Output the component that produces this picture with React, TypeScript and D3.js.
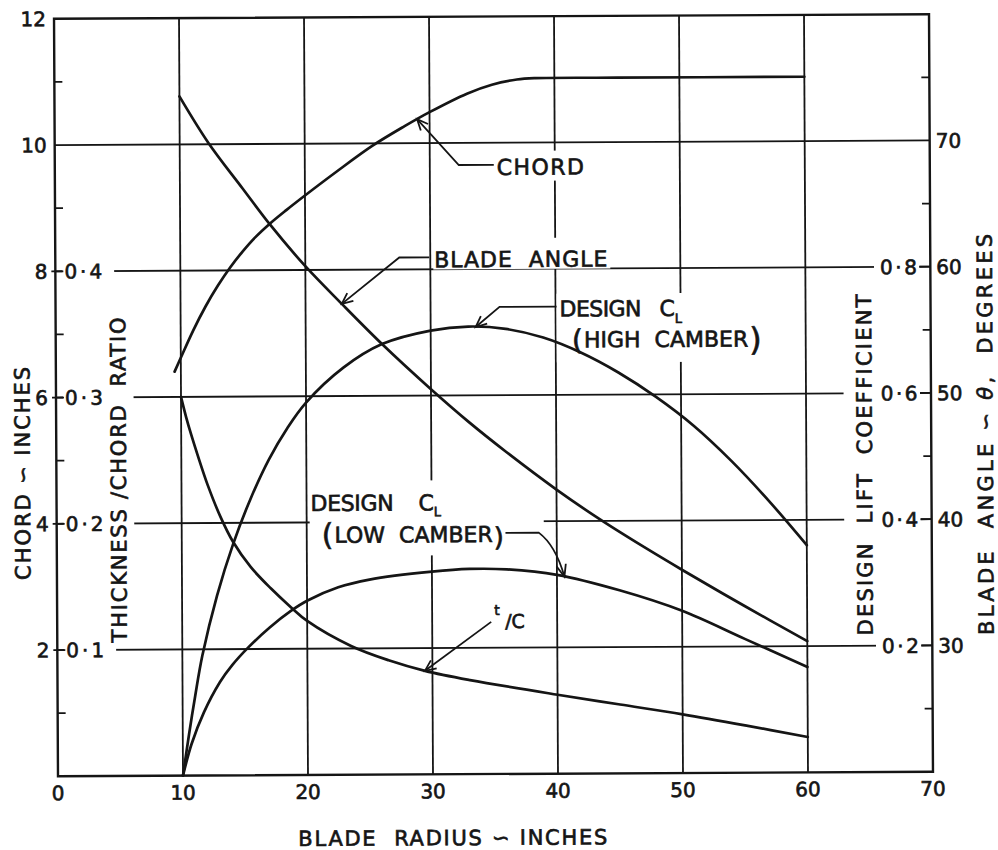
import React, { useEffect, useRef } from "react";
import * as d3 from "d3";

// Blade radius axis (inches)
const radiusTicks = [0, 10, 20, 30, 40, 50, 60, 70];
const radiusGrid = [10, 20, 30, 40, 50, 60];

// Chord axis (inches) and the companion scales sharing its gridlines
const chordLabels = [12, 10, 8, 6, 4, 2];
const chordGrid = [2, 4, 6, 8, 10];
const chordMinorTicks = [1, 5, 7, 9, 11];
const ratioTicks = [0.4, 0.3, 0.2, 0.1];
const liftTicks = [0.8, 0.6, 0.4, 0.2];
const angleTicks = [70, 60, 50, 40, 30];

// Chord (inches)
const chordRadius = [9.5, 10, 11, 12, 13, 14, 15, 16, 17.2, 18.5, 20, 22.5, 25.4, 28, 30, 33, 35, 37, 38.5, 45, 60];
const chordInches = [6.4, 6.62, 7.05, 7.43, 7.76, 8.05, 8.3, 8.52, 8.74, 8.95, 9.18, 9.55, 9.96, 10.27, 10.49, 10.78, 10.92, 11.0, 11.02, 11.02, 11.02];

// Blade angle (degrees)
const angleRadius = [10, 12.3, 15, 17.2, 20, 22.9, 26.1, 30, 33, 36, 40, 43.5, 47, 50, 55, 60];
const angleDegrees = [73.8, 70.1, 66.5, 63.6, 60.3, 57.3, 54.1, 50.5, 47.9, 45.5, 42.5, 40.1, 37.9, 36.1, 33.2, 30.4];

// Design lift coefficient, high camber
const clHighRadius = [10, 10.5, 11, 11.6, 12.8, 14.1, 15.5, 17, 18.5, 20, 23, 26.1, 30, 33, 36, 39, 42, 45, 48, 51, 54, 57, 60];
const clHigh = [0, 0.065, 0.125, 0.19, 0.285, 0.366, 0.437, 0.5, 0.55, 0.59, 0.645, 0.682, 0.703, 0.709, 0.705, 0.691, 0.667, 0.635, 0.596, 0.55, 0.494, 0.43, 0.36];

// Design lift coefficient, low camber
const clLowRadius = [10, 10.7, 11.7, 13, 14, 15.3, 17, 18.7, 20, 22.5, 25, 30, 33, 36, 40, 45, 50, 55, 60];
const clLow = [0, 0.05, 0.1, 0.148, 0.175, 0.203, 0.234, 0.26, 0.276, 0.297, 0.309, 0.321, 0.325, 0.324, 0.315, 0.29, 0.257, 0.212, 0.167];

// Thickness / chord ratio
const tcRadius = [10, 10.4, 10.8, 11.3, 12.1, 13.1, 14.1, 15.5, 17.1, 18.7, 20, 23.5, 26.5, 29.4, 33, 40, 45, 50, 55, 60];
const tcRatio = [0.3, 0.284, 0.27, 0.254, 0.23, 0.205, 0.185, 0.165, 0.148, 0.133, 0.122, 0.102, 0.0905, 0.082, 0.0745, 0.0625, 0.0545, 0.0465, 0.0375, 0.028];

const FONT = "'DejaVu Sans', 'Liberation Sans', sans-serif";
const INK = "#151515";

type Sel = d3.Selection<any, any, any, any>;
type TOpts = { size?: number; anchor?: string; spacing?: number; length?: number };

const fmtDot = (v: number) => v.toFixed(1).replace(".", "·");

function addText(g: Sel, s: string, px: number, py: number, o: TOpts = {}) {
  const t = g
    .append("text")
    .attr("x", px)
    .attr("y", py)
    .attr("font-size", o.size ?? 20)
    .attr("text-anchor", o.anchor ?? "start")
    .attr("xml:space", "preserve")
    .style("white-space", "pre")
    .text(s);
  if (o.spacing) t.attr("letter-spacing", o.spacing);
  if (o.length) t.attr("textLength", o.length).attr("lengthAdjust", "spacing");
  return t;
}

// Bracketed second line of a curve label: "(" text ")" with tall brackets
function bracketLine(g: Sel, s: string, px: number, py: number, open: number, close: number) {
  const t = g
    .append("text")
    .attr("x", px)
    .attr("y", py)
    .attr("font-size", 22)
    .attr("xml:space", "preserve")
    .style("white-space", "pre");
  t.append("tspan").attr("font-size", open).attr("dy", 2).text("(");
  t.append("tspan").attr("dy", -2).attr("dx", 1).text(s);
  t.append("tspan").attr("font-size", close).attr("dy", 4).attr("dx", 1).text(")");
  return t;
}

// A group whose contents sit on a white patch that breaks the gridlines behind them.
// pad = [top, right, bottom, left] in the group's own frame.
function masked(parent: Sel, pad: [number, number, number, number], transform?: string) {
  const g = parent.append("g");
  if (transform) g.attr("transform", transform);
  const bg = g.append("rect").attr("fill", "#fff").attr("stroke", "none");
  const body = g.append("g");
  const fit = () => {
    const b = (body.node() as SVGGElement).getBBox();
    bg.attr("x", b.x - pad[3])
      .attr("y", b.y - pad[0])
      .attr("width", b.width + pad[1] + pad[3])
      .attr("height", b.height + pad[0] + pad[2]);
  };
  return { body, fit };
}

function arrowHead(g: Sel, tip: [number, number], from: [number, number], len = 12, spread = 0.42) {
  const a = Math.atan2(from[1] - tip[1], from[0] - tip[0]);
  const p1 = [tip[0] + len * Math.cos(a + spread), tip[1] + len * Math.sin(a + spread)];
  const p2 = [tip[0] + len * Math.cos(a - spread), tip[1] + len * Math.sin(a - spread)];
  g.append("path")
    .attr("d", `M${p1[0]},${p1[1]}L${tip[0]},${tip[1]}L${p2[0]},${p2[1]}`)
    .attr("fill", "none")
    .attr("stroke", INK)
    .attr("stroke-width", 1.8)
    .attr("stroke-linejoin", "miter");
}

export default function App() {
  const ref = useRef<SVGSVGElement | null>(null);

  useEffect(() => {
    const svg = d3.select(ref.current as SVGSVGElement);
    svg.selectAll("*").remove();

    const x = d3.scaleLinear().domain([0, 70]).range([56, 931]);
    const y = d3.scaleLinear().domain([0, 12]).range([774, 16.5]);
    const yRatio = d3.scaleLinear().domain([0, 0.6]).range(y.range());
    const yLift = d3.scaleLinear().domain([0, 1.2]).range(y.range());
    const yAngle = d3.scaleLinear().domain([20, 80]).range(y.range());

    svg.append("rect").attr("width", 998).attr("height", 850).attr("fill", "#fff");
    const root = svg
      .append("g")
      .attr("transform", "rotate(-0.3 493 395)")
      .attr("font-family", FONT)
      .attr("fill", INK);

    // Gridlines
    const grid = root.append("g").attr("stroke", INK).attr("stroke-width", 1.8);
    grid
      .selectAll("line.gv")
      .data(radiusGrid)
      .join("line")
      .attr("class", "gv")
      .attr("x1", (d) => x(d))
      .attr("x2", (d) => x(d))
      .attr("y1", y(0))
      .attr("y2", y(12));
    grid
      .selectAll("line.gh")
      .data(chordGrid)
      .join("line")
      .attr("class", "gh")
      .attr("x1", x(0))
      .attr("x2", x(70))
      .attr("y1", (d) => y(d))
      .attr("y2", (d) => y(d));

    // Lettering: a thin outline gives the drafted letters their weight
    const labels = root.append("g").attr("stroke", INK).attr("stroke-width", 0.65);
    const CAP = 7.3;

    // Left axis: chord inches outside, thickness/chord ratio inside
    chordLabels.forEach((v) => addText(labels, String(v), x(0) - 8, y(v) + CAP, { size: 20, anchor: "end" }));
    ratioTicks.forEach((v) => {
      const m = masked(labels, [0, 9, 0, 1]);
      addText(m.body, fmtDot(v), x(0) + 9, yRatio(v) + CAP, { size: 20, spacing: 3 });
      m.fit();
    });

    // Right axis: lift coefficient inside, blade angle outside
    liftTicks.forEach((v) => {
      const m = masked(labels, [0, 0, 0, 6]);
      addText(m.body, fmtDot(v), x(70) - 11, yLift(v) + CAP, { size: 20, anchor: "end", spacing: 2.5 });
      m.fit();
    });
    angleTicks.forEach((v) => addText(labels, String(v), x(70) + 6, yAngle(v) + CAP, { size: 20 }));

    // Bottom axis
    radiusTicks.forEach((v) => addText(labels, String(v), x(v), y(0) + 24, { size: 20, anchor: "middle" }));

    // Axis titles
    addText(labels, "BLADE  RADIUS ∽ INCHES", 296, 845, { size: 21, length: 309 });
    addText(labels, "CHORD ∽ INCHES", 0, 0, { size: 21, anchor: "middle", length: 213 })
      .attr("transform", "translate(22,471) rotate(-90)")
      .attr("dy", "0.36em");
    {
      const m = masked(labels, [2, 3, 3, 3], "translate(118,478) rotate(-90)");
      addText(m.body, "THICKNESS /CHORD  RATIO", 0, 0, { size: 21, anchor: "middle", length: 325 }).attr("dy", "0.36em");
      m.fit();
    }
    {
      const m = masked(labels, [9, 3, 2, 3], "translate(864,467) rotate(-90)");
      addText(m.body, "DESIGN  LIFT  COEFFICIENT", 0, 0, { size: 21, anchor: "middle", length: 341 }).attr("dy", "0.36em");
      m.fit();
    }
    {
      const t = labels
        .append("text")
        .attr("transform", "translate(985,437) rotate(-90)")
        .attr("text-anchor", "middle")
        .attr("dy", "0.36em")
        .attr("font-size", 21)
        .attr("textLength", 401)
        .attr("lengthAdjust", "spacing")
        .attr("xml:space", "preserve")
        .style("white-space", "pre");
      t.append("tspan").text("BLADE  ANGLE ∽ ");
      t.append("tspan").attr("font-style", "italic").text("θ");
      t.append("tspan").text(",  DEGREES");
    }

    // Curve labels
    const ANN = 22;
    {
      const m = masked(labels, [4, 3, 1, 3]);
      addText(m.body, "CHORD", x(35.36), y(9.49), { size: ANN, length: 87 });
      m.fit();
    }
    {
      const m = masked(labels, [9, 3, -3, 1]);
      addText(m.body, "BLADE  ANGLE", x(30.32), y(8.03), { size: ANN, length: 173 });
      m.fit();
    }
    {
      const m = masked(labels, [3, 4, 3, 3]);
      addText(m.body, "DESIGN", x(40.32), y(7.24), { size: ANN, length: 82 });
      addText(m.body, "C", x(48.32), y(7.24), { size: ANN });
      addText(m.body, "L", x(49.52), y(7.13), { size: 13 });
      bracketLine(m.body, "HIGH  CAMBER", x(41.3), y(6.75), 28, 32);
      m.fit();
    }
    {
      const m = masked(labels, [10, 40, 3, 1]);
      addText(m.body, "DESIGN", x(20.32), y(4.18), { size: ANN, length: 83 });
      addText(m.body, "C", x(28.96), y(4.18), { size: ANN });
      addText(m.body, "L", x(30.16), y(4.09), { size: 13 });
      bracketLine(m.body, "LOW  CAMBER", x(21.2), y(3.675), 30, 26);
      m.fit();
    }
    addText(labels, "t", x(34.96), y(2.52), { size: 14 });
    addText(labels, "/C", x(35.84), y(2.31), { size: 19 });

    // Axes frame and ticks
    const axes = root.append("g").attr("stroke", INK).attr("stroke-width", 2.4).attr("fill", "none");
    axes
      .append("rect")
      .attr("x", x(0))
      .attr("y", y(12))
      .attr("width", x(70) - x(0))
      .attr("height", y(0) - y(12));
    const ticks = root.append("g").attr("stroke", INK).attr("stroke-width", 1.8);
    chordMinorTicks.forEach((v) => {
      ticks.append("line").attr("x1", x(0)).attr("x2", x(0) + 8).attr("y1", y(v)).attr("y2", y(v));
      ticks.append("line").attr("x1", x(70) - 8).attr("x2", x(70)).attr("y1", y(v)).attr("y2", y(v));
    });
    [2, 4, 6, 8].forEach((v) => {
      ticks.append("line").attr("x1", x(0) - 4).attr("x2", x(0) + 7).attr("y1", y(v)).attr("y2", y(v));
      ticks.append("line").attr("x1", x(70) - 11).attr("x2", x(70)).attr("y1", y(v)).attr("y2", y(v));
    });

    // Curves
    const curves = root
      .append("g")
      .attr("fill", "none")
      .attr("stroke", INK)
      .attr("stroke-width", 2.7)
      .attr("stroke-linecap", "round")
      .attr("stroke-linejoin", "round");
    const series: { r: number[]; v: number[]; ys: d3.ScaleLinear<number, number> }[] = [
      { r: chordRadius, v: chordInches, ys: y },
      { r: angleRadius, v: angleDegrees, ys: yAngle },
      { r: clHighRadius, v: clHigh, ys: yLift },
      { r: clLowRadius, v: clLow, ys: yLift },
      { r: tcRadius, v: tcRatio, ys: yRatio },
    ];
    series.forEach((s) => {
      const pts: [number, number][] = s.r.map((r, i) => [r, s.v[i]]);
      const line = d3
        .line<[number, number]>()
        .x((d) => x(d[0]))
        .y((d) => s.ys(d[1]))
        .curve(d3.curveCatmullRom.alpha(0.5));
      curves.append("path").attr("d", line(pts) as string);
    });

    // Leaders with arrowheads pointing at the curves
    const lead = root.append("g").attr("fill", "none").attr("stroke", INK).attr("stroke-width", 1.8);
    const onCurve = (rs: number[], vs: number[], ys: d3.ScaleLinear<number, number>, r: number): [number, number] => [
      x(r),
      ys(d3.scaleLinear().domain(rs).range(vs)(r)),
    ];
    const P = (r: number, v: number): [number, number] => [x(r), y(v)];
    const poly = (pts: [number, number][]) => lead.append("path").attr("d", "M" + pts.map((p) => p.join(",")).join("L"));

    {
      const tip = onCurve(chordRadius, chordInches, y, 29);
      const c = P(32.32, 9.65);
      poly([tip, c, P(35.12, 9.65)]);
      arrowHead(lead, tip, c);
    }
    {
      const tip = onCurve(angleRadius, angleDegrees, yAngle, 22.9);
      const c = P(27.52, 8.19);
      poly([tip, c, P(29.92, 8.19)]);
      arrowHead(lead, tip, c);
    }
    {
      const tip = onCurve(clHighRadius, clHigh, yLift, 33.6);
      const c = P(35.52, 7.4);
      poly([tip, c, P(40.08, 7.4)]);
      arrowHead(lead, tip, c);
    }
    {
      const tip = onCurve(clLowRadius, clLow, yLift, 40.6);
      const a = P(35.9, 3.82);
      const b = P(38.56, 3.82);
      const q = P(39.9, 3.62);
      lead.append("path").attr("d", `M${a}L${b}Q${q} ${tip}`);
      arrowHead(lead, tip, q, 13, 0.38);
    }
    {
      const tip = onCurve(tcRadius, tcRatio, yRatio, 29.4);
      const s = P(34.72, 2.41);
      poly([s, tip]);
      arrowHead(lead, tip, s);
    }
  }, []);

  return (
    <svg
      ref={ref}
      width={998}
      height={850}
      style={{ position: "absolute", left: 0, top: 0, display: "block", background: "#fff" }}
    />
  );
}
